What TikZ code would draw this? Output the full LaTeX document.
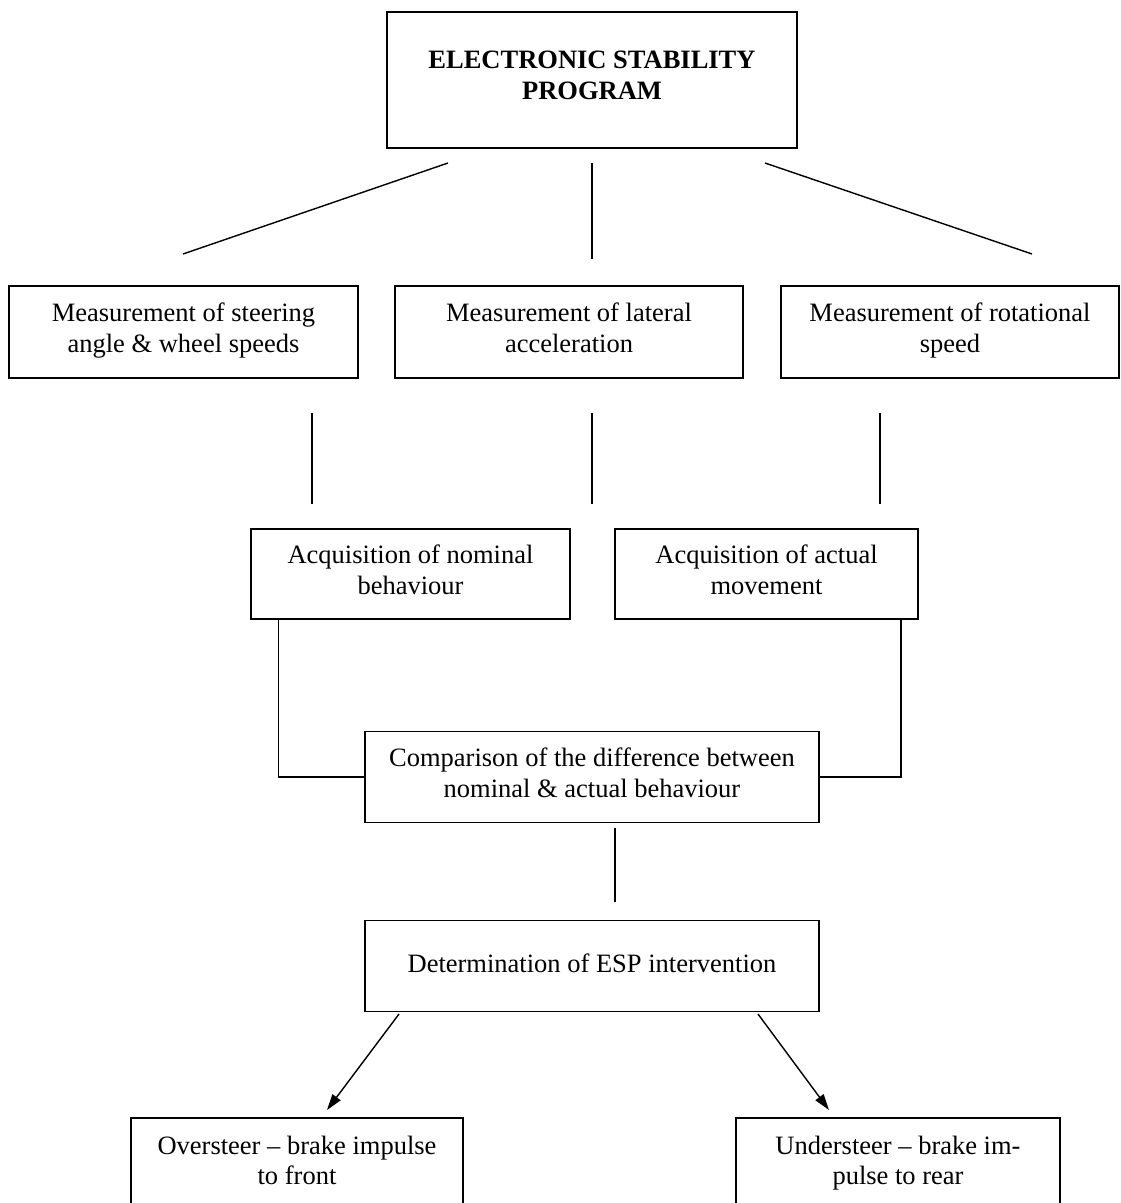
\documentclass[tikz,border=0pt]{standalone}
\usepackage{fontspec}
\setmainfont{Liberation Serif}
\usetikzlibrary{arrows.meta}

\tikzset{
  box/.style={draw, line width=1.6pt, inner sep=0pt, align=center,
    font=\fontsize{26.5}{30.5}\selectfont,
    execute at begin node=\strut, execute at end node=\strut},
}

\begin{document}
\begin{tikzpicture}[x=1pt, y=-1pt, line width=1.4pt, >={Triangle[length=16pt,width=10pt]}]
        \useasboundingbox (0,0) rectangle (1121,1203);
        \clip (0,0) rectangle (1121,1203);

        % nodes
        \node[box, minimum width=410pt, minimum height=136pt,
          font=\fontsize{26.5}{30.5}\selectfont\bfseries] (esp) at (592,80) {ELECTRONIC STABILITY\\PROGRAM};
        \node[box, minimum width=349pt, minimum height=92pt] (steer) at (183.5,332) {Measurement of steering\\angle \& wheel speeds};
        \node[box, minimum width=348pt, minimum height=92pt] (lat) at (569,332) {Measurement of lateral\\acceleration};
        \node[box, minimum width=338pt, minimum height=92pt] (rot) at (950,332) {Measurement of rotational\\speed};
        \node[box, minimum width=319pt, minimum height=90pt] (nom) at (410.5,574) {Acquisition of nominal\\behaviour};
        \node[box, minimum width=303pt, minimum height=90pt] (act) at (766.5,574) {Acquisition of actual\\movement};
        \node[box, minimum width=454pt, minimum height=91pt] (comp) at (592,777) {Comparison of the difference between\\nominal \& actual behaviour};
        \node[box, minimum width=454pt, minimum height=91pt] (det) at (592,966) {Determination of ESP intervention};
        \node[box, minimum width=332pt, minimum height=94pt] (over) at (297,1165) {Oversteer – brake impulse\\to front};
        \node[box, minimum width=324pt, minimum height=94pt] (under) at (898,1165) {Understeer – brake im-\\pulse to rear};

        % free ends of the lines
        \coordinate (espl) at (448,163);
        \coordinate (espm) at (592,163);
        \coordinate (espr) at (765,163);
        \coordinate (steerin) at (183,254);
        \coordinate (latin) at (592,259);
        \coordinate (rotin) at (1032,254);
        \coordinate (steerout) at (312,413);
        \coordinate (latout) at (592,413);
        \coordinate (rotout) at (880,413);
        \coordinate (nomin) at (312,504);
        \coordinate (midin) at (592,504);
        \coordinate (actin) at (880,504);
        \coordinate (compout) at (615,828);
        \coordinate (detin) at (615,902);
        \coordinate (detl) at (399,1014);
        \coordinate (detr) at (758,1014);
        \coordinate (overin) at (327,1110);
        \coordinate (underin) at (829,1110);

        % lines from the program box
        \draw (espl) -- (steerin);
        \draw (espm) -- (latin);
        \draw (espr) -- (rotin);

        % lines between the measurements and the acquisitions
        \draw (steerout) -- (nomin);
        \draw (latout) -- (midin);
        \draw (rotout) -- (actin);

        % acquisitions to comparison
        \draw ([xshift=28pt]nom.south west) |- (comp.west);
        \draw ([xshift=-18pt]act.south east) |- (comp.east);

        % comparison to determination
        \draw (compout) -- (detin);

        % intervention
        \draw[->] (detl) -- (overin);
        \draw[->] (detr) -- (underin);

\end{tikzpicture}
\end{document}
